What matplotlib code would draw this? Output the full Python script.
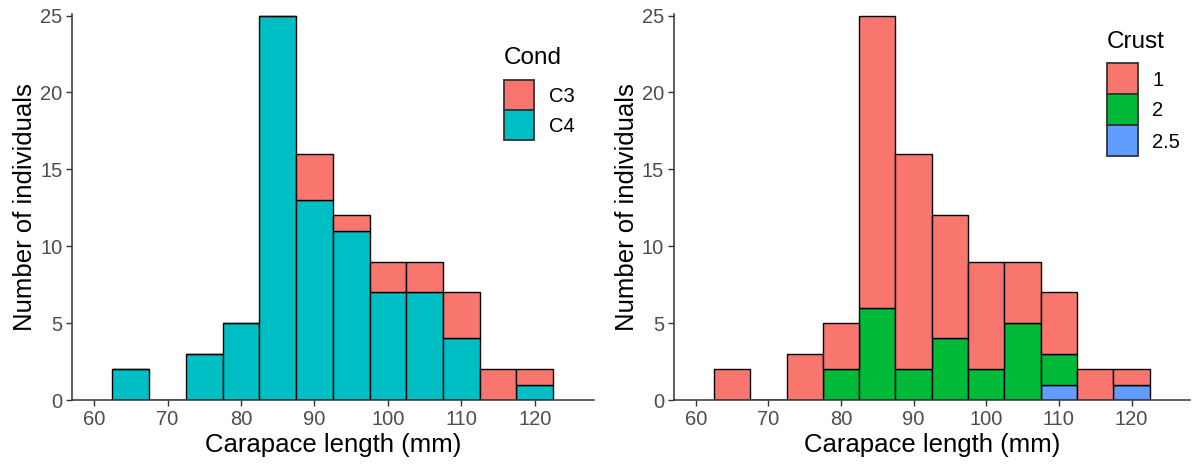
import matplotlib.pyplot as plt
from matplotlib.patches import Rectangle

plt.rcParams['font.family'] = ['Liberation Sans', 'DejaVu Sans']

# bin centres (width 5 mm)
bins = [65, 70, 75, 80, 85, 90, 95, 100, 105, 110, 115, 120]

# Cond counts per bin
c4 = [2, 0, 3, 5, 25, 13, 11, 7, 7, 4, 0, 1]
c3 = [0, 0, 0, 0, 0, 3, 1, 2, 2, 3, 2, 1]

# Crust counts per bin
crust_25 = [0, 0, 0, 0, 0, 0, 0, 0, 0, 1, 0, 1]
crust_2 = [0, 0, 0, 2, 6, 2, 4, 2, 5, 2, 0, 0]
crust_1 = [2, 0, 3, 3, 19, 14, 8, 7, 4, 4, 2, 1]

RED = '#F8766D'
TEAL = '#00BFC4'
GREEN = '#00BA38'
BLUE = '#619CFF'

W, H = 1192, 466
fig = plt.figure(figsize=(W / 100, H / 100), dpi=100)
ax1 = fig.add_axes([0.0604, 0.1416, 0.4376, 0.8284])
ax2 = fig.add_axes([0.5654, 0.1416, 0.4326, 0.8284])


def stack(ax, layers):
    bottom = [0] * len(bins)
    for vals, col in layers:
        ax.bar(bins, vals, width=5, bottom=bottom, color=col,
               edgecolor='black', linewidth=1.0)
        bottom = [b + v for b, v in zip(bottom, vals)]


def style(ax):
    ax.set_xlim(57, 128)
    ax.set_ylim(0, 25.1)
    ax.set_xticks([60, 70, 80, 90, 100, 110, 120])
    ax.set_yticks([0, 5, 10, 15, 20, 25])
    for s in ['top', 'right']:
        ax.spines[s].set_visible(False)
    for s in ['left', 'bottom']:
        ax.spines[s].set_color('#333333')
        ax.spines[s].set_linewidth(1.1)
    ax.tick_params(colors='#333333', labelcolor='#4D4D4D', labelsize=14.5,
                   length=4, width=1, pad=3)
    ax.set_xlabel('Carapace length (mm)', fontsize=18.5, labelpad=3)
    ax.set_ylabel('Number of individuals', fontsize=18.5, labelpad=2)


def px(x, y):
    # pixel position (from top-left) -> figure fraction
    return x / W, 1 - y / H


def legend(title, labels, colors, x0, title_base, key_top, key=30):
    fig.text(*px(x0, title_base), title, fontsize=17.5, va='baseline')
    for i, (lab, col) in enumerate(zip(labels, colors)):
        top = key_top + i * key
        fx, fy = px(x0, top + key)
        fig.add_artist(Rectangle((fx, fy), key / W, key / H, facecolor=col,
                                 edgecolor='#333333', linewidth=1.3,
                                 transform=fig.transFigure))
        fig.text(*px(x0 + 45, top + key / 2 + 7), lab, fontsize=14.5,
                 va='baseline')


stack(ax1, [(c4, TEAL), (c3, RED)])
style(ax1)
legend('Cond', ['C3', 'C4'], [RED, TEAL], 504, 64, 80)

stack(ax2, [(crust_25, BLUE), (crust_2, GREEN), (crust_1, RED)])
style(ax2)
legend('Crust', ['1', '2', '2.5'], [RED, GREEN, BLUE], 1107, 48, 63, key=31)

fig.savefig('out.png', dpi=100)
